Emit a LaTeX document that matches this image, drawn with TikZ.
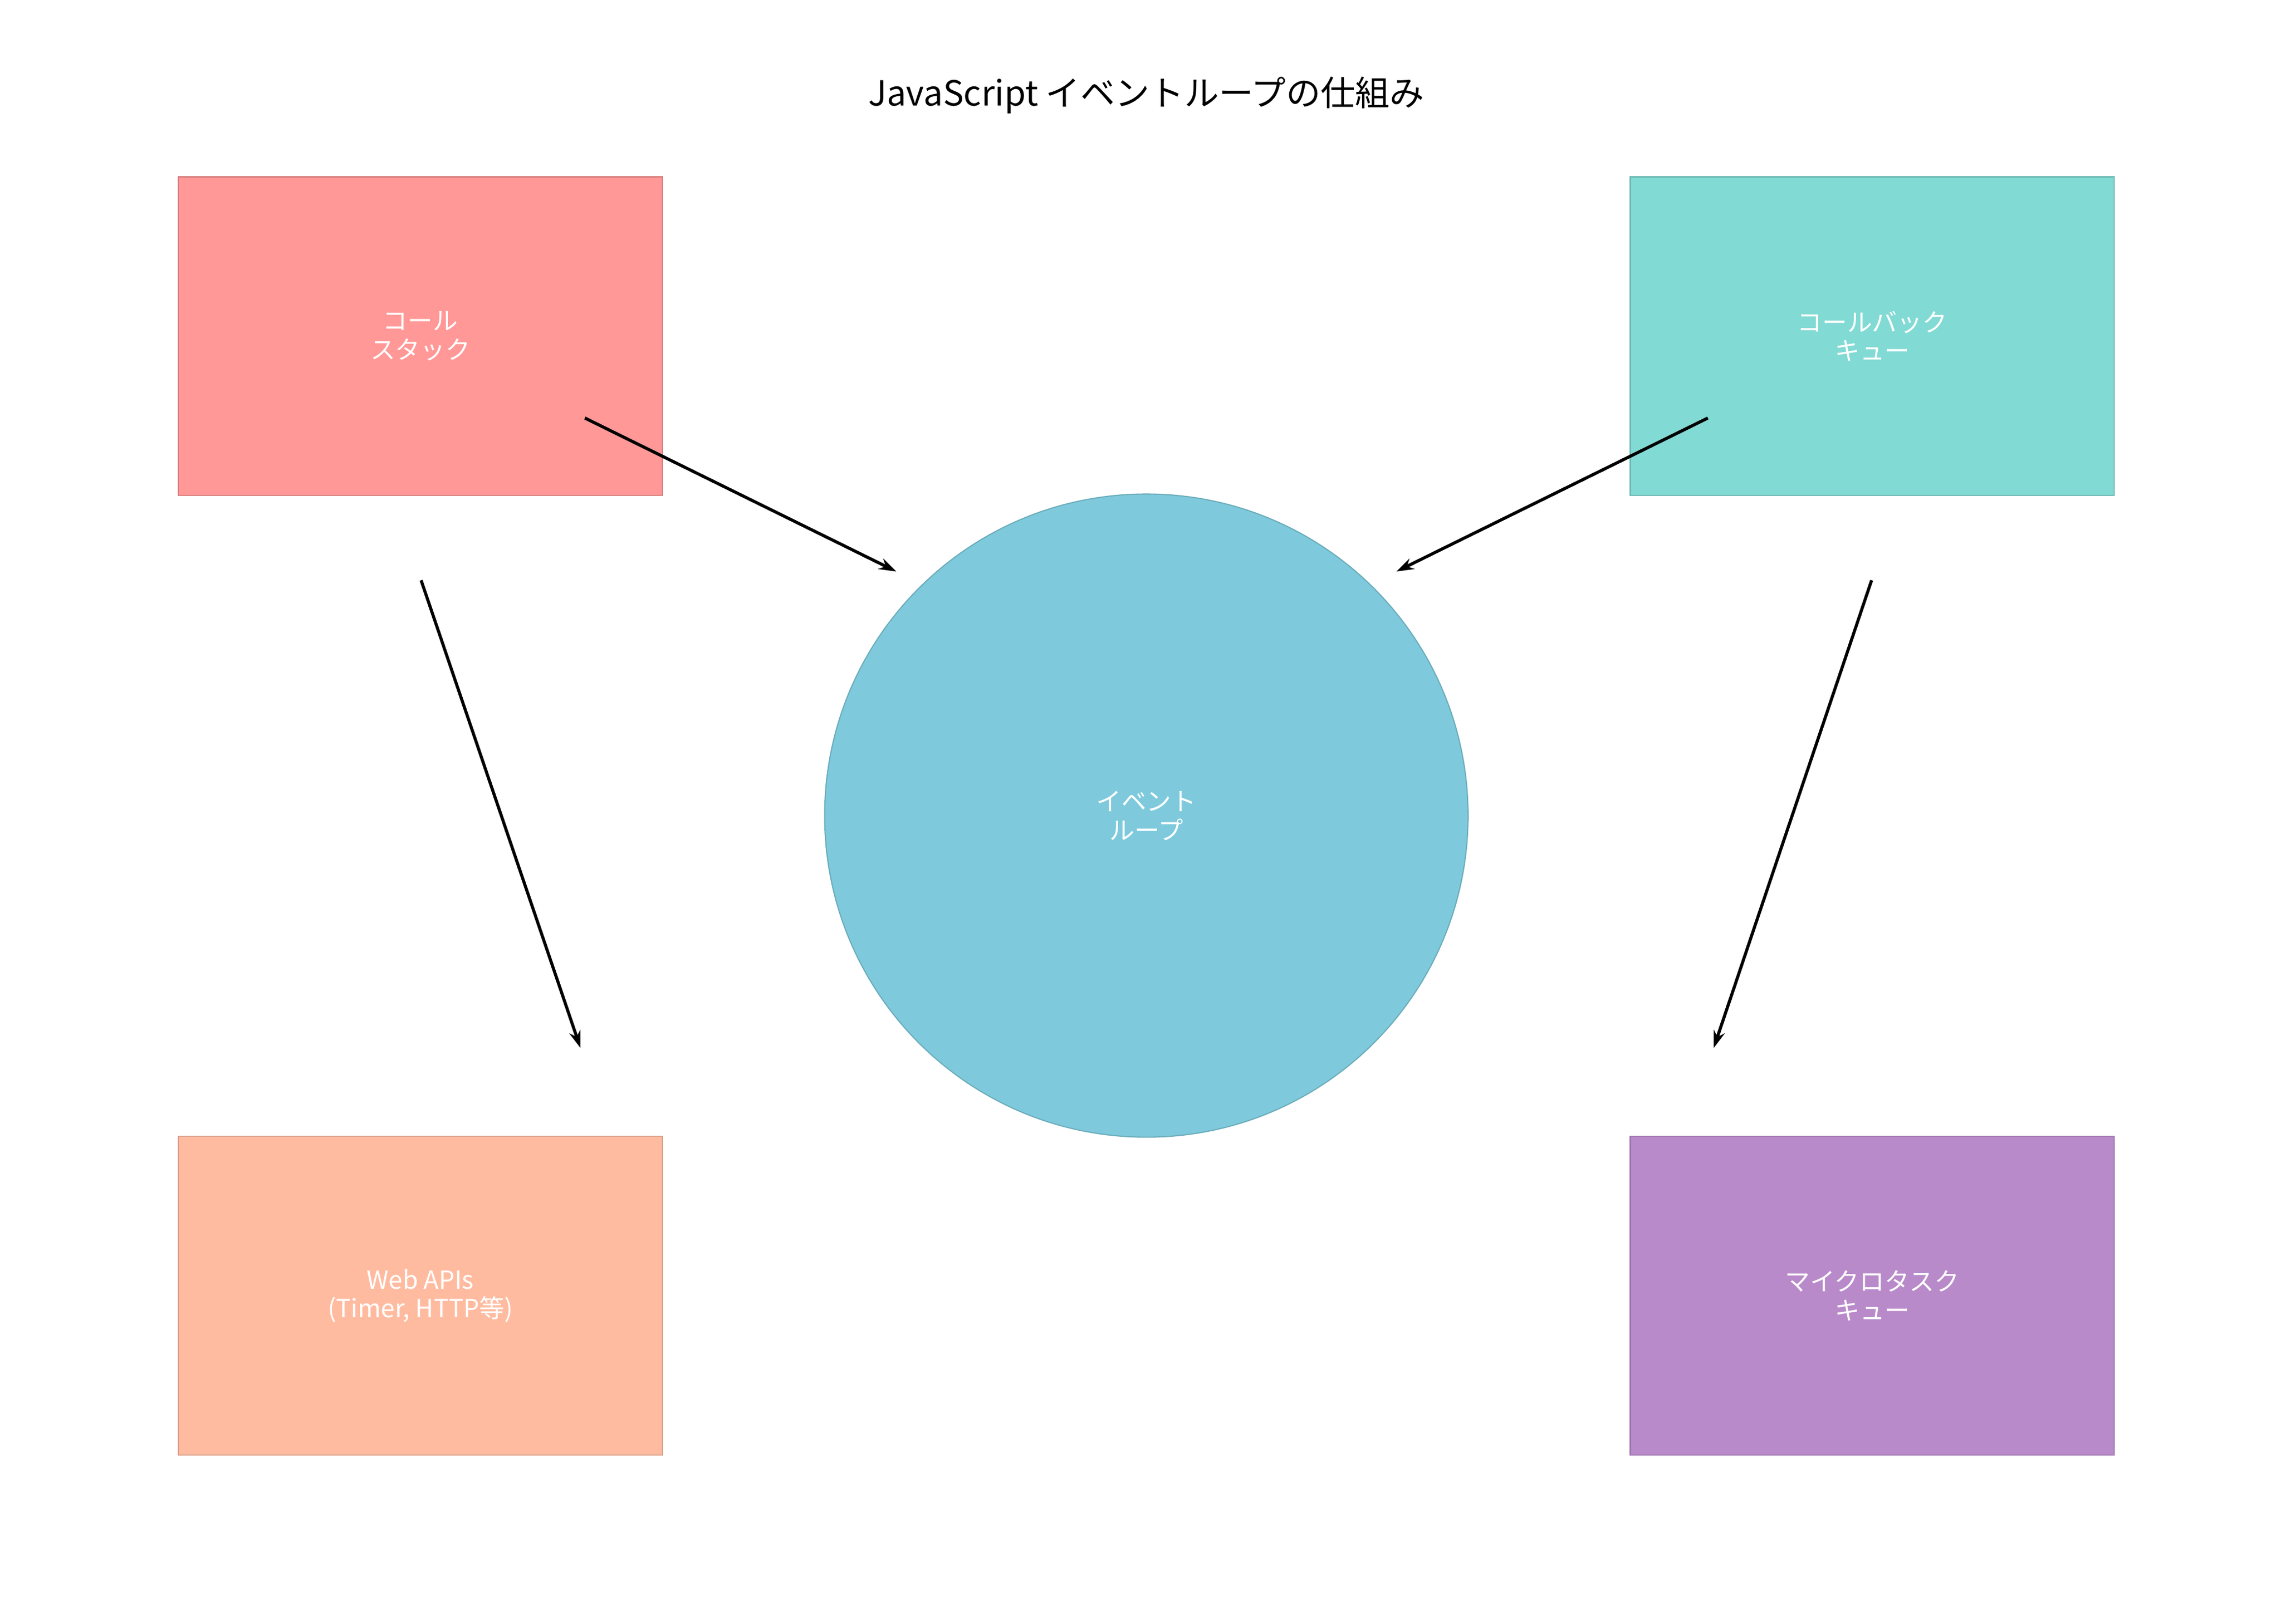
\documentclass[tikz,border=0pt]{standalone}
\usepackage{fontspec}
\setmainfont{Noto Sans CJK JP}
\usetikzlibrary{arrows.meta}
\definecolor{cred}{HTML}{FF9896}\definecolor{cteal}{HTML}{82DAD4}
\definecolor{cpeach}{HTML}{FFBBA0}\definecolor{cpurple}{HTML}{B98ACA}
\definecolor{ccirc}{HTML}{7ECADC}
\begin{document}
\begin{tikzpicture}[x=0.02673cm,y=-0.02673cm,
 boxst/.style={draw=#1!85!black,line width=0.6pt,fill=#1,minimum width=331*0.02673cm,minimum height=218*0.02673cm,text=white,font=\fontsize{13}{15}\selectfont,align=center},
 arr/.style={-{Stealth[length=9pt,width=6pt]},line width=1.6pt}]
\useasboundingbox (0,0) rectangle (1560,1111);
\node[font=\fontsize{18}{22}\selectfont] (title) at (784,65) {JavaScript イベントループの仕組み};
\node[boxst=cred] (cs) at (287.5,230) {コール\\スタック};
\node[boxst=cteal] (cq) at (1280.5,230) {コールバック\\キュー};
\node[boxst=cpeach] (wa) at (287.5,886.5) {Web APIs\\(Timer, HTTP等)};
\node[boxst=cpurple] (mq) at (1280.5,886.5) {マイクロタスク\\キュー};
\node[circle,draw=ccirc!85!black,line width=0.6pt,fill=ccirc,minimum size=440*0.02673cm,text=white,font=\fontsize{13}{15}\selectfont,align=center] (el) at (784,558) {イベント\\ループ};
\coordinate (a1) at (400,286); \coordinate (b1) at (613,391);
\coordinate (a2) at (1168,286); \coordinate (b2) at (955,391);
\coordinate (a3) at (288,397); \coordinate (b3) at (397,717);
\coordinate (a4) at (1280,397); \coordinate (b4) at (1172,717);
\draw[arr] (a1) -- (b1);
\draw[arr] (a2) -- (b2);
\draw[arr] (a3) -- (b3);
\draw[arr] (a4) -- (b4);
\end{tikzpicture}
\end{document}
